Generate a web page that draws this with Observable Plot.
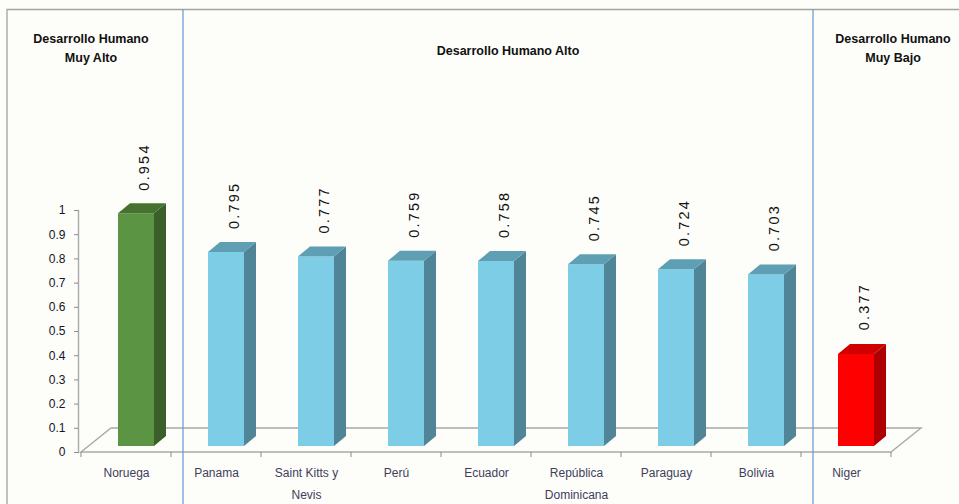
<!DOCTYPE html>
<html>
<head>
<meta charset="utf-8">
<script src="https://cdn.jsdelivr.net/npm/d3@7"></script>
<script src="https://cdn.jsdelivr.net/npm/@observablehq/plot@0.6"></script>
<style>
  html, body { margin: 0; padding: 0; background: #fdfdf9; }
  #wrap { position: relative; width: 959px; height: 504px; overflow: hidden; background: #fdfdf9; }
  #chart svg { display: block; overflow: visible; }
  .title { position: absolute; font-family: "Liberation Sans", Arial, sans-serif; font-weight: bold;
           font-size: 12.5px; color: #111; text-align: center; line-height: 19px; white-space: nowrap;
           transform: translateX(-50%); }
</style>
</head>
<body>
<div id="wrap">
  <div id="chart"></div>
  <div class="title" style="left:91px; top:30px;">Desarrollo Humano<br>Muy Alto</div>
  <div class="title" style="left:508px; top:42px;">Desarrollo Humano Alto</div>
  <div class="title" style="left:893px; top:30px;">Desarrollo Humano<br>Muy Bajo</div>
</div>
<script>
// ---- data ----
const categories = ["Noruega", "Panama", "Saint Kitts y Nevis", "Perú", "Ecuador",
                    "República Dominicana", "Paraguay", "Bolivia", "Niger"];
const categoryLabels = ["Noruega", "Panama", "Saint Kitts y\nNevis", "Perú", "Ecuador",
                        "República\nDominicana", "Paraguay", "Bolivia", "Niger"];
const values = [0.954, 0.795, 0.777, 0.759, 0.758, 0.745, 0.724, 0.703, 0.377];
const groups = ["Muy Alto", "Alto", "Alto", "Alto", "Alto", "Alto", "Alto", "Alto", "Muy Bajo"];
const yTicks = [0, 0.1, 0.2, 0.3, 0.4, 0.5, 0.6, 0.7, 0.8, 0.9, 1];
const yTickLabels = ["0", "0.1", "0.2", "0.3", "0.4", "0.5", "0.6", "0.7", "0.8", "0.9", "1"];
const separatorsBefore = ["Panama", "Niger"];

// ---- styles ----
const palette = {
  "Muy Alto": {front: "#5b9442", side: "#3b5f2a", top: "#45732f"},
  "Alto":     {front: "#7ecde7", side: "#508597", top: "#5e9fb3"},
  "Muy Bajo": {front: "#ff0000", side: "#ae0000", top: "#d00000"}
};
const FLOOR_DX = 30, FLOOR_DY = -24;      // floor depth (px)
const BAR_SHIFT_X = 7.5, BAR_SHIFT_Y = -6; // bar placement inside floor depth
const BAR_DX = 12, BAR_DY = -10;           // bar depth
const BAR_INSET_LEFT = 29.5, BAR_WIDTH = 36;
const gridColor = "#a9a9a9";

const data = categories.map((c, i) => ({name: c, value: values[i], group: groups[i]}));
const labelOf = new Map(categories.map((c, i) => [c, categoryLabels[i]]));

function scene(index, scales, channels, dims) {
  const {x, y} = scales;
  const step = x(categories[1]) - x(categories[0]);
  const xL = x(categories[0]);
  const xR = x(categories[categories.length - 1]) + step;
  const y0 = y(0);
  const g = d3.create("svg:g");
  // outer frame (top & left border)
  g.append("path").attr("d", `M7,${dims.height} V9.5 H${dims.width}`)
    .attr("fill", "none").attr("stroke", "#a3a3a3").attr("stroke-width", 1.3);
  // floor
  g.append("path")
    .attr("d", `M${xL},${y0} L${xL + FLOOR_DX},${y0 + FLOOR_DY} H${xR + FLOOR_DX} L${xR},${y0} Z`)
    .attr("fill", "none").attr("stroke", gridColor).attr("stroke-width", 1.4);
  // category ticks at band boundaries
  for (let i = 0; i <= categories.length; i++) {
    const xt = xL + i * step;
    g.append("line").attr("x1", xt).attr("x2", xt).attr("y1", y0).attr("y2", y0 + 5)
      .attr("stroke", "#8a8a8a").attr("stroke-width", 1);
  }
  // bars
  for (const d of data) {
    const c = palette[d.group];
    const l = x(d.name) + BAR_INSET_LEFT + BAR_SHIFT_X;
    const r = l + BAR_WIDTH;
    const b = y(0) + BAR_SHIFT_Y;
    const t = y(d.value) + BAR_SHIFT_Y - 2 * d.value;
    g.append("path").attr("d", `M${l},${b} V${t} H${r} V${b} Z`).attr("fill", c.front);
    g.append("path").attr("d", `M${r},${b} L${r + BAR_DX},${b + BAR_DY} V${t + BAR_DY} L${r},${t} Z`).attr("fill", c.side);
    g.append("path").attr("d", `M${l},${t} L${l + BAR_DX},${t + BAR_DY} H${r + BAR_DX} L${r},${t} Z`).attr("fill", c.top);
  }
  // section separators
  for (const s of separatorsBefore) {
    const xs = x(s) + 12;
    g.append("line").attr("x1", xs).attr("x2", xs).attr("y1", 9.5).attr("y2", dims.height)
      .attr("stroke", "#6f9fdc").attr("stroke-width", 1.3);
  }
  return g.node();
}

const plot = Plot.plot({
  width: 959,
  height: 504,
  marginLeft: 78,
  marginRight: 66,
  marginTop: 210,
  marginBottom: 52,
  style: {background: "transparent", overflow: "visible", fontFamily: "'Liberation Sans', Arial, sans-serif"},
  x: {type: "band", domain: categories, padding: 0, axis: null},
  y: {domain: [0, 1], axis: null},
  marks: [
    scene,
    Plot.frame({anchor: "left", stroke: gridColor, strokeWidth: 1.4}),
    Plot.axisY({
      ticks: yTicks, tickFormat: (d) => yTickLabels[yTicks.indexOf(d)],
      tickSize: 4, tickPadding: 9, fontSize: 12, stroke: "#8a8a8a", fill: "#14142a", label: null
    }),
    Plot.axisX({
      tickSize: 0, tickPadding: 9, fontSize: 12, fill: "#3e3e5c", label: null,
      lineHeight: 1.85, tickFormat: d => labelOf.get(d)
    }),
    Plot.text(data, {
      x: "name", y: "value", text: d => d3.format(".3f")(d.value),
      rotate: -90, textAnchor: "start", dx: 18, dy: -31,
      fontSize: 14.5, fill: "#111"
    })
  ]
});
// widen the spacing of the value labels (as in the original)
const valueTexts = new Set(values.map(v => d3.format(".3f")(v)));
d3.select(plot).selectAll("text")
  .filter(function() { return valueTexts.has(this.textContent); })
  .style("letter-spacing", "2.2px");
document.getElementById("chart").appendChild(plot);
</script>
</body>
</html>
